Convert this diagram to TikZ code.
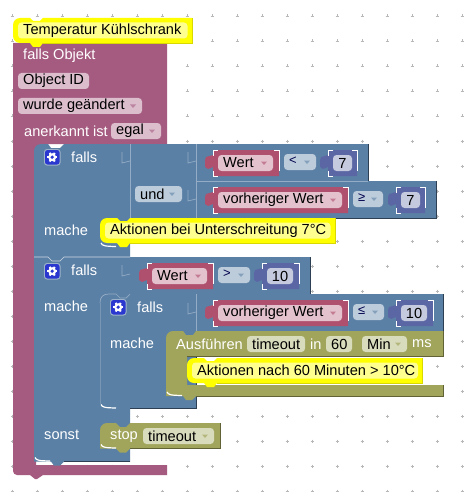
\documentclass[tikz,border=0pt]{standalone}
\usepackage{fontspec}
\setmainfont{Liberation Sans}
\usetikzlibrary{calc}
\definecolor{pinkb}{HTML}{A55B80}
\definecolor{blueb}{HTML}{5B80A5}
\definecolor{oliveb}{HTML}{A1A55B}
\definecolor{valb}{HTML}{B0506F}
\definecolor{numb}{HTML}{5B67A5}
\definecolor{yel}{HTML}{FFFF00}
\definecolor{yelf}{HTML}{FFFF90}
\definecolor{gearb}{HTML}{2A38D0}
\tikzset{
 lab/.style={anchor=west,inner sep=0pt,font=\fontsize{14.6}{16}\selectfont},
 wlab/.style={lab,text=white},
 fld/.style={rounded corners=3.5pt,fill=#1},
}
\colorlet{pinkf}{pinkb!40!white}
\colorlet{bluef}{blueb!40!white}
\colorlet{olivef}{oliveb!40!white}
\colorlet{valf}{valb!35!white}
\colorlet{numf}{numb!35!white}
\colorlet{bluelite}{blueb!65!white}
\colorlet{bluefaint}{blueb!82!white}
\newcommand{\fldtxt}[7]{\fill[fld=#4] (#1,#3) rectangle (#2,#3+16);
 \node[lab] (#5) at (#1+#7,#3+8) {#6};}
\newcommand{\arrowd}[3]{\fill[#3] (#1-3,#2-1.5) -- (#1+3,#2-1.5) -- (#1,#2+2) -- cycle;}
\newcommand{\valblock}[7]{%
 \fill[valb] (#2,#4) -- (#2,#4+5) -- (#2-7,#4+7) -- (#2-8,#4+10) -- (#2-8,#4+17) -- (#2-5,#4+19) -- (#2,#4+17) -- (#2,#4+26) -- (#3,#4+26) -- (#3,#4) -- cycle;
 \draw[white,line width=.5pt] (#2,#4+6) -- (#2,#4) -- (#2+5,#4) (#3,#4+21) -- (#3,#4) -- (#3-5,#4) (#2,#4+21) -- (#2,#4+26) -- (#2+5,#4+26);
 \fldtxt{#5}{#6}{#4+5}{valf}{#1}{#7}{5}
 \arrowd{#6-9}{#4+13}{valb!75!white}}
\newcommand{\numblock}[7]{%
 \fill[numb] (#2,#4) -- (#2,#4+5) -- (#2-7,#4+7) -- (#2-8,#4+10) -- (#2-8,#4+17) -- (#2-5,#4+19) -- (#2,#4+17) -- (#2,#4+26) -- (#3,#4+26) -- (#3,#4) -- cycle;
 \draw[white,line width=.5pt] (#2,#4+6) -- (#2,#4) -- (#2+5,#4) (#3,#4+21) -- (#3,#4) -- (#3-5,#4) (#2,#4+21) -- (#2,#4+26) -- (#2+5,#4+26);
 \fill[fld=numf] (#5,#4+5) rectangle (#6,#4+21);
 \node[lab,anchor=center] (#1) at ({(#5+#6)/2},#4+13) {#7};}
\newcommand{\opfld}[5]{%
 \fill[fld=bluef] (#2,#4) rectangle (#3,#4+16);
 \node[lab,text=black!70!blue] (#1) at (#2+5,#4+7) {\fontsize{13}{14}\selectfont #5};
 \arrowd{#3-9}{#4+8}{blueb!75!white}}
\newcommand{\gear}[3]{%
 \fill[blueb!60!white,rounded corners=3pt] (#2,#3) rectangle (#2+16.5,#3+16.5);
 \fill[gearb,rounded corners=2.5pt] (#2+1,#3+1) rectangle (#2+15.5,#3+15.5);
 \foreach \a in {0,60,120} \draw[white,line width=2pt] ($(#2+8.2,#3+8.2)+(\a:5)$) -- ($(#2+8.2,#3+8.2)+(\a+180:5)$);
 \fill[white] (#2+8.2,#3+8.2) circle (4);
 \fill[gearb] (#2+8.2,#3+8.2) circle (1.8);
 \coordinate (#1) at (#2,#3);}
\newcommand{\jig}[2]{%
 \draw[bluelite,line width=.7pt] (#1-8,#2+3) -- (#1-8,#2+14) -- (#1,#2+12);}
\newcommand{\inarc}[2]{%
 \draw[white,line width=1.2pt] (#1+1,#2-4) .. controls (#1+2,#2-1) and (#1+6,#2-.7) .. (#1+16,#2-.5);}
\newcommand{\toparc}[2]{%
 \draw[bluelite,line width=.7pt] (#1,#2+9) .. controls (#1,#2+3) and (#1+3,#2) .. (#1+9,#2) -- (#1+16,#2) -- (#1+20,#2+4) -- (#1+26,#2+4) -- (#1+30,#2);}
\newcommand{\yelblock}[6]{%
 \fill[yel] (#2,#4+8) [rounded corners=7pt] -- (#2,#4) [sharp corners] -- (#2+17,#4) -- (#2+20,#4+3) -- (#2+27,#4+3) -- (#2+30,#4) -- (#3,#4) -- (#3,#5) -- (#2+30,#5) -- (#2+27,#5+4) -- (#2+20,#5+4) -- (#2+17,#5) -- (#2+8,#5) [rounded corners=7pt] -- (#2,#5) [sharp corners] -- cycle;
 \draw[yel!85!black,line width=.6pt] (#3,#4) -- (#3,#5) -- (#2+30,#5);
 \fill[fld=yelf] (#2+5,#4+4.5) rectangle (#3-4.5,#5-4.5);
 \node[lab] (#1) at (#2+10,{(#4+#5)/2}) {#6};}
\begin{document}
\begin{tikzpicture}[x=1pt,y=-1pt]
\useasboundingbox (0,0) rectangle (465,492);
\fill[white] (0,0) rectangle (465,492);
\foreach \i in {0,...,18} \foreach \j in {0,...,19}
 \draw[black!28,line width=.5pt] (12+25*\i-1.5,16+25*\j) -- ++(3,0) (12+25*\i,16+25*\j-1.5) -- ++(0,3);
% hat block
\fill[pinkb] (13,43) -- (167,43) -- (167,144) -- (44,144) -- (44,152) -- (36,152) -- (36,465) -- (167,465) -- (167,475) -- (43,475) -- (37,479) -- (35,479) -- (30,475) -- (20,475) [rounded corners=4pt] -- (13,475) [sharp corners] -- (13,470) -- cycle;
% main if block
\fill[blueb] (34,150) [rounded corners=7pt] -- (34,144) [sharp corners] -- (48,144) -- (51,148) -- (60,148) -- (64,144) -- (368,144) -- (368,181) -- (436,181) -- (436,218) -- (130,218) -- (130,257) -- (310,257) -- (310,294) -- (130,294) -- (130,461.5) -- (64,461.5) -- (60,465.5) -- (54,465.5) -- (51,461.5) -- (34,461.5) -- cycle;
\draw[blueb!50!black,line width=.5pt] (368,144) -- (368,181) (436,181) -- (436,218) -- (130,218) (310,257) -- (310,294) (130,461.5) -- (64,461.5);
\draw[white!70!blueb,line width=.7pt] (34,257) -- (48,257) -- (52,261) -- (60,261) -- (64,257) -- (130,257);
\draw[white!35!blueb,line width=.7pt] (130,144) -- (130,218) (196,144) -- (196,218) (196,181) -- (368,181);
\inarc{34}{461.5}
\jig{130}{149} \jig{196}{149} \jig{196}{187} \jig{130}{262}
\gear{g1}{44}{149} \gear{g2}{44}{263}
\node[wlab] (f1) at (71,157) {falls};
\node[wlab] (f2) at (71,270) {falls};
\node[wlab] (m1) at (44,230) {mache};
\node[wlab] (m2) at (44,306) {mache};
\node[wlab] (so) at (44,435) {sonst};
% nested if
\fill[blueb] (100,302) [rounded corners=7pt] -- (100,294) [sharp corners] -- (116,294) -- (120,298) -- (126,298) -- (130,294) -- (443,294) -- (443,331) -- (196,331) -- (196,408.5) -- (130,408.5) -- (126,412.5) -- (120,412.5) -- (116,408.5) -- (100,408.5) -- cycle;
\draw[blueb!50!black,line width=.5pt] (443,294) -- (443,331) (196,331) -- (196,408.5) -- (130,408.5);
\draw[white!35!blueb,line width=.7pt] (196,294) -- (196,331);
\toparc{100}{294}
\draw[bluefaint,line width=.5pt] (100,303) -- (100,404);
\inarc{100}{408.5}
\jig{196}{300}
\gear{g3}{110}{299}
\node[wlab] (f3) at (137,307) {falls};
\node[wlab] (m3) at (110,343) {mache};
% olive timeout
\fill[oliveb] (166,339) [rounded corners=7pt] -- (166,331) [sharp corners] -- (183,331) -- (186,335) -- (193,335) -- (196,331) -- (443,331) -- (443,356.5) -- (187,356.5) -- (187,385) -- (443,385) -- (443,396) -- (196,396) -- (192,400) -- (186,400) -- (183,396) -- (166,396) -- cycle;
\draw[oliveb!60!black,line width=.5pt] (443,385) -- (443,396) -- (196,396) (443,331) -- (443,356.5) -- (187,356.5);
\inarc{166}{396}
\node[wlab] (au) at (176,344) {Ausführen};
\fldtxt{247}{305}{336}{olivef}{fto}{timeout}{5}
\node[wlab] (in) at (310,344) {in};
\fldtxt{326}{352}{336}{olivef}{f60}{60}{5}
\fldtxt{362}{407}{336}{olivef}{fmin}{Min}{5}
\arrowd{398}{344}{oliveb!80!white}
\node[wlab] (ms) at (412,344) {ms};
% stop
\fill[oliveb] (100,431) [rounded corners=7pt] -- (100,423) [sharp corners] -- (116,423) -- (120,427) -- (126,427) -- (130,423) -- (220,423) -- (220,448.5) -- (130,448.5) -- (126,452.5) -- (120,452.5) -- (116,448.5) -- (100,448.5) -- cycle;
\draw[oliveb!60!black,line width=.5pt] (220,423) -- (220,448.5) -- (130,448.5);
\inarc{100}{448.5}
\node[wlab] (st) at (110,436) {stop};
\fldtxt{143}{214}{428}{olivef}{fst}{timeout}{5}
\arrowd{205}{436}{oliveb!80!white}
% yellow comments
\yelblock{y1}{13}{192}{18}{43}{Temperatur Kühlschrank}
\inarc{100}{247}
\yelblock{y2}{100}{335}{218}{243}{Aktionen bei Unterschreitung 7°C}
\yelblock{y3}{187}{422.5}{358}{383}{Aktionen nach 60 Minuten > 10°C}
% hat texts
\node[wlab] (t1) at (23,56) {falls Objekt};
\fldtxt{18}{89}{73}{pinkf}{t2}{Object ID}{5}
\fldtxt{18}{142}{98}{pinkf}{t3}{wurde geändert}{5}
\arrowd{133}{106}{pinkb!75!white}
\node[wlab] (t4) at (24,131) {anerkannt ist};
\fldtxt{111}{161}{123}{pinkf}{t5}{egal}{5}
\arrowd{152}{131}{pinkb!75!white}
% conditions
\fldtxt{135}{182}{186}{bluef}{und}{und}{5}
\arrowd{172}{194}{blueb!75!white}
\valblock{w1}{213}{279}{150}{218}{273}{Wert}
\opfld{o1}{284}{316}{154}{<}
\numblock{n1}{328}{357}{150}{333}{352}{7}
\valblock{w2}{213}{348}{187}{218}{342}{vorheriger Wert}
\opfld{o2}{353}{383}{191}{≥}
\numblock{n2}{396}{425}{187}{401}{420}{7}
\valblock{w3}{147}{213}{263}{152}{207}{Wert}
\opfld{o3}{218}{250}{267}{>}
\numblock{n3}{262}{299}{263}{267}{293}{10}
\valblock{w4}{213}{348}{300}{218}{342}{vorheriger Wert}
\opfld{o4}{353}{384}{304}{≤}
\numblock{n4}{396}{433}{300}{401}{427}{10}
\end{tikzpicture}
\end{document}
